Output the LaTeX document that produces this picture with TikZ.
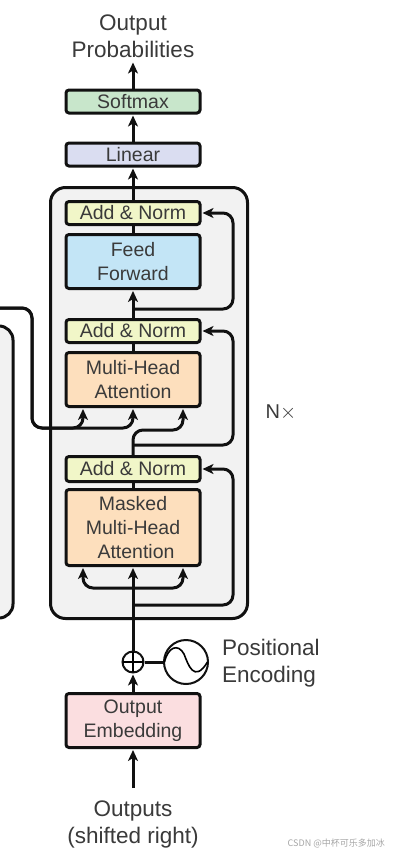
\documentclass[tikz,border=0pt]{standalone}
\usepackage{fontspec}
\setmainfont{Liberation Sans}
\newfontfamily\cjkwm{Noto Sans CJK SC}
\usetikzlibrary{arrows.meta,calc}
\definecolor{ink}{HTML}{3A3A3A}
\definecolor{stroke}{HTML}{111111}
\definecolor{softfill}{HTML}{C8E6CB}
\definecolor{linfill}{HTML}{DADDF1}
\definecolor{normfill}{HTML}{F1F6C8}
\definecolor{fffill}{HTML}{C3E5F6}
\definecolor{attfill}{HTML}{FDDFBD}
\definecolor{embfill}{HTML}{FBDEE0}
\definecolor{panel}{HTML}{F2F2F2}
\tikzset{
  x=1pt,y=-1pt,
  blockbox/.style={draw=stroke,line width=3pt,rounded corners=3pt,minimum width=134pt,inner sep=0pt,align=center,text=ink,font=\fontsize{19.5}{24}\selectfont},
  wire/.style={draw=stroke,line width=3pt},
  arrowwire/.style={wire,-{Stealth[length=11pt,width=10pt,inset=3pt]},shorten >=1pt},
  curvewire/.style={wire,rounded corners=10pt},
  curvearrow/.style={arrowwire,rounded corners=10pt},
  label/.style={text=ink,align=center,inner sep=0pt,font=\fontsize{22.5}{27.5}\selectfont},
}
\begin{document}
\begin{tikzpicture}
\useasboundingbox (0,0) rectangle (400,857);
\fill[white] (0,0) rectangle (400,857);
% encoder remnant
\fill[panel,rounded corners=14pt] (-20,326) -- (13,326) -- (13,619) -- (-20,619) -- cycle;
\draw[wire,rounded corners=14pt] (-20,326) -- (13,326) -- (13,618) -- (-20,618);
% decoder panel
\node[draw=stroke,fill=panel,line width=3pt,rounded corners=15pt,minimum width=197pt,minimum height=431pt,inner sep=0pt] (panelbox) at (149,403) {};
% blocks
\node[blockbox,fill=softfill,minimum height=23pt] (softmax) at (133,101.5) {Softmax};
\node[blockbox,fill=linfill,minimum height=23pt] (linear) at (133,154.5) {Linear};
\node[blockbox,fill=normfill,minimum height=23pt] (norma) at (133,213) {Add \& Norm};
\node[blockbox,fill=fffill,minimum height=54pt] (ff) at (133,261.5) {Feed\\Forward};
\node[blockbox,fill=normfill,minimum height=23pt] (normb) at (133,331) {Add \& Norm};
\node[blockbox,fill=attfill,minimum height=54pt] (mha) at (133,379.5) {Multi-Head\\Attention};
\node[blockbox,fill=normfill,minimum height=25pt] (normc) at (133,469) {Add \& Norm};
\node[blockbox,fill=attfill,minimum height=76pt] (masked) at (133,527.5) {Masked\\Multi-Head\\\hspace{6pt}Attention};
\node[blockbox,fill=embfill,minimum height=54pt] (emb) at (133,720.5) {Output\\Embedding};
% labels
\node[label] (outprob) at (133,36.5) {Output\\Probabilities};
\node[label] (outs) at (133,824.5) {Outputs\\(shifted right)};
\node[label,align=left,anchor=west] (posenc) at (222,663) {Positional\\Encoding};
\node[label,font=\fontsize{20}{24}\selectfont] (nx) at (281,412) {N$\times$};
\node[text=gray!70,font=\cjkwm\fontsize{9}{10}\selectfont,anchor=east,inner sep=0pt] (wm) at (385,843) {CSDN @中杯可乐多加冰};
% add and sine
\node[circle,draw=stroke,line width=2pt,fill=white,minimum size=21pt,inner sep=0pt] (plus) at (133,662) {};
\draw[stroke,line width=2pt] (123,662) -- (143,662) (133,652) -- (133,672);
\node[circle,draw=stroke,line width=2pt,fill=white,minimum size=44pt,inner sep=0pt] (sine) at (186,662) {};
\draw[stroke,line width=1.6pt] (164.5,662) .. controls (168,647) and (178,643) .. (184,654) .. controls (188,664) and (194,684) .. (207.5,662);
\draw[wire] (plus) -- (sine);
% coordinates
\coordinate (lefttop) at (-5,308);
\coordinate (leftmid) at (32,428);
\coordinate (mhaleft) at ($(mha.south)+(-50,0)$);
\coordinate (mharight) at ($(mha.south)+(50,0)$);
\coordinate (maskleft) at ($(masked.south)+(-50,0)$);
\coordinate (maskright) at ($(masked.south)+(50,0)$);
\coordinate (resa) at (133,309);
\coordinate (resb) at (133,445);
\coordinate (resc) at (133,605);
\coordinate (split) at (133,588);
% vertical wires
\draw[arrowwire] (outprob.south |- softmax.north) -- ++(0,-27);
\draw[arrowwire] (linear.north) -- (softmax.south);
\draw[arrowwire] (norma.north) -- (linear.south);
\draw[wire] (ff.north) -- (norma.south);
\draw[arrowwire] (normb.north) -- (ff.south);
\draw[wire] (mha.north) -- (normb.south);
\draw[wire] (masked.north) -- (normc.south);
\draw[arrowwire] (plus.north) -- (masked.south);
\draw[arrowwire] (emb.north) -- (plus.south);
\draw[arrowwire] (133,788) -- (emb.south);
% residuals
\draw[curvearrow] (resa) -- (233,309) -- (233,213) -- (norma.east);
\draw[curvearrow] (resb) -- (233,445) -- (233,331) -- (normb.east);
\draw[curvearrow] (resc) -- (233,605) -- (233,469) -- (normc.east);
% attention inputs
\draw[curvearrow] (lefttop) -- (32,308) -- (leftmid) -- (83,428) -- (mhaleft);
\draw[curvearrow] (lefttop) -- (32,308) -- (leftmid) -- (133,428) -- (mha.south);
\draw[curvearrow] (normc.north) -- (133,430) -- (183,430) -- (mharight);
\draw[curvearrow] (split) -- (83,588) -- (maskleft);
\draw[curvearrow] (split) -- (183,588) -- (maskright);
\end{tikzpicture}
\end{document}
